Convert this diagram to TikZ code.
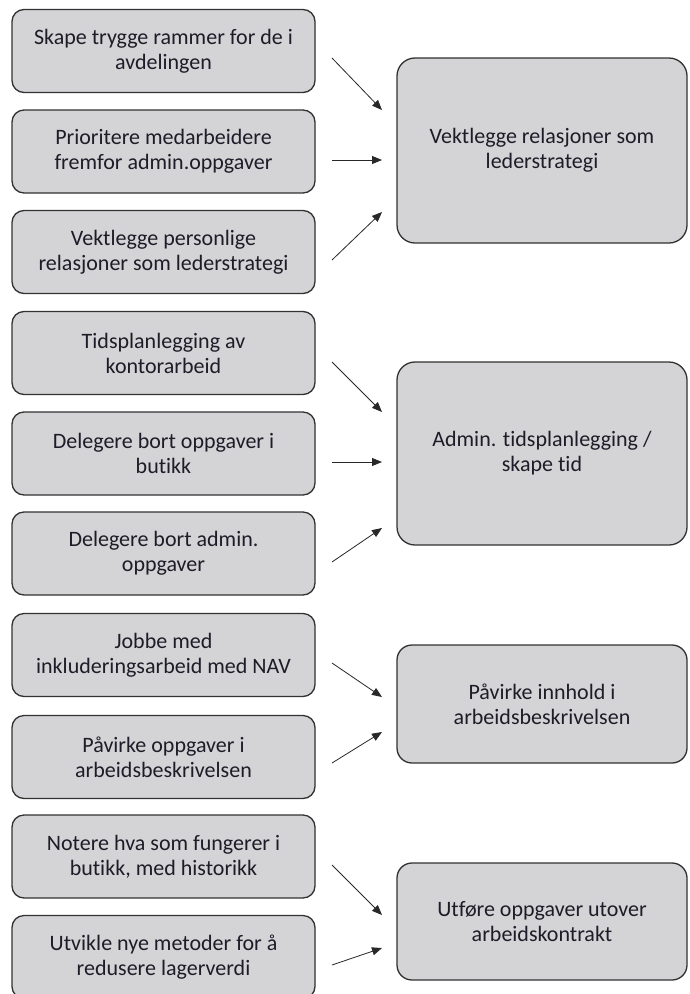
\documentclass[tikz,border=0pt]{standalone}
\usepackage{fontspec}
\setmainfont{Carlito}[Ligatures=NoCommon]
\usetikzlibrary{arrows.meta}
\definecolor{boxfill}{RGB}{212,211,213}
\definecolor{boxline}{RGB}{50,50,50}
\definecolor{txt}{RGB}{30,28,40}
\definecolor{arrcol}{RGB}{40,40,40}
\tikzset{
  leftbox/.style={draw=boxline, line width=1.3pt, fill=boxfill, rounded corners=12pt,
    minimum width=303pt, minimum height=83pt, align=center, text=txt,
    font=\fontsize{22}{25}\selectfont, inner sep=0pt},
  rightbox/.style={draw=boxline, line width=1.3pt, fill=boxfill, rounded corners=18pt,
    minimum width=290pt, align=center, text=txt,
    font=\fontsize{22}{25}\selectfont, inner sep=0pt},
  arr/.style={draw=arrcol, line width=0.8pt, -{Triangle[length=10pt,width=8pt]}}
}
\begin{document}
\begin{tikzpicture}[x=1pt,y=-1pt]
\clip (0,0) rectangle (689,994);
\fill[white] (0,0) rectangle (689,994);
% left boxes
\node[leftbox] (b1) at (163.5,51) {Skape trygge rammer for de i\\avdelingen};
\node[leftbox] (b2) at (163.5,151.5) {Prioritere medarbeidere\\fremfor admin.oppgaver};
\node[leftbox] (b3) at (163.5,252) {Vektlegge personlige\\relasjoner som lederstrategi};
\node[leftbox] (b4) at (163.5,353) {Tidsplanlegging av\\kontorarbeid};
\node[leftbox] (b5) at (163.5,453.5) {Delegere bort oppgaver i\\butikk};
\node[leftbox] (b6) at (163.5,553.5) {Delegere bort admin.\\oppgaver};
\node[leftbox] (b7) at (163.5,655) {Jobbe med\\inkluderingsarbeid med NAV};
\node[leftbox] (b8) at (163.5,757) {Påvirke oppgaver i\\arbeidsbeskrivelsen};
\node[leftbox] (b9) at (163.5,856.5) {Notere hva som fungerer i\\butikk, med historikk};
\node[leftbox] (b10) at (163.5,957) {Utvikle nye metoder for å\\redusere lagerverdi};
% right boxes
\node[rightbox, minimum height=185pt] (r1) at (542,150.5) {Vektlegge relasjoner som\\lederstrategi};
\node[rightbox, minimum height=183pt] (r2) at (542,453.5) {Admin. tidsplanlegging /\\skape tid};
\node[rightbox, minimum height=118pt, rounded corners=15pt] (r3) at (542,704) {Påvirke innhold i\\arbeidsbeskrivelsen};
\node[rightbox, minimum height=117pt, rounded corners=15pt] (r4) at (542,921.5) {Utføre oppgaver utover\\arbeidskontrakt};
% arrow end points
\coordinate (a1s) at (332,58);  \coordinate (a1e) at (382,110);
\coordinate (a2s) at (332,160); \coordinate (a2e) at (382,160);
\coordinate (a3s) at (332,260); \coordinate (a3e) at (382,212);
\coordinate (a4s) at (332,362); \coordinate (a4e) at (382,412);
\coordinate (a5s) at (332,462); \coordinate (a5e) at (382,462);
\coordinate (a6s) at (332,562); \coordinate (a6e) at (382,528);
\coordinate (a7s) at (332,663); \coordinate (a7e) at (382,697);
\coordinate (a8s) at (332,763); \coordinate (a8e) at (382,732);
\coordinate (a9s) at (332,865); \coordinate (a9e) at (382,915);
\coordinate (a10s) at (332,965); \coordinate (a10e) at (382,948);
\foreach \i in {1,...,10} { \draw[arr] (a\i s) -- (a\i e); }
\end{tikzpicture}
\end{document}
